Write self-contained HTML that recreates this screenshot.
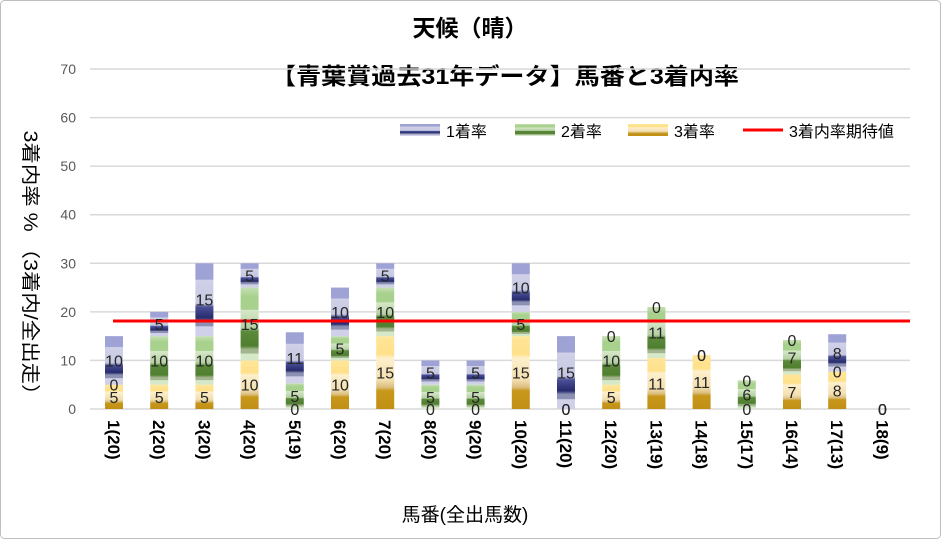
<!DOCTYPE html>
<html><head><meta charset="utf-8"><style>
body{margin:0;background:#fff}
svg{display:block;font-family:"Liberation Sans","Noto Sans CJK JP",sans-serif}
</style></head><body>
<svg id="s" width="941" height="539" xmlns="http://www.w3.org/2000/svg">
<defs>
<linearGradient id="gb" x1="0" y1="0" x2="0" y2="1">
<stop offset="0" stop-color="#9ea2d4"/><stop offset="0.22" stop-color="#9ea2d4"/><stop offset="0.23" stop-color="#d0d1e8"/><stop offset="0.55" stop-color="#c6c8e2"/><stop offset="0.6" stop-color="#4a4f98"/><stop offset="0.75" stop-color="#262b6c"/><stop offset="0.8" stop-color="#8c90b2"/><stop offset="0.86" stop-color="#8c90b2"/><stop offset="0.87" stop-color="#d0d1e8"/><stop offset="1" stop-color="#d0d1e8"/>
</linearGradient>
<linearGradient id="gg" x1="0" y1="0" x2="0" y2="1">
<stop offset="0" stop-color="#c5e0b4"/><stop offset="0.12" stop-color="#a9d18e"/><stop offset="0.3" stop-color="#a9d18e"/><stop offset="0.31" stop-color="#d5e8c8"/><stop offset="0.55" stop-color="#b5cfa2"/><stop offset="0.6" stop-color="#5a8a3a"/><stop offset="0.8" stop-color="#4f7f2e"/><stop offset="0.85" stop-color="#a3b58f"/><stop offset="0.9" stop-color="#a3b58f"/><stop offset="0.91" stop-color="#d5e8c8"/><stop offset="1" stop-color="#d5e8c8"/>
</linearGradient>
<linearGradient id="go" x1="0" y1="0" x2="0" y2="1">
<stop offset="0" stop-color="#ffe699"/><stop offset="0.25" stop-color="#ffe08a"/><stop offset="0.3" stop-color="#fdf0cc"/><stop offset="0.6" stop-color="#f3dfb0"/><stop offset="0.7" stop-color="#dcbf80"/><stop offset="0.75" stop-color="#c8981c"/><stop offset="1" stop-color="#c08f14"/>
</linearGradient>
</defs>
<rect x="0.5" y="0.5" width="940" height="538" rx="4" fill="#fff" stroke="#bfbfbf"/>
<text x="470" y="36" font-size="23" font-weight="bold" text-anchor="middle" fill="#000">天候（晴）</text>
<text x="505" y="84" font-size="23" font-weight="bold" text-anchor="middle" fill="#000" textLength="468" lengthAdjust="spacingAndGlyphs">【青葉賞過去31年データ】馬番と3着内率</text>
<g id="grid"></g>
<g id="bars"></g>
<line x1="113" y1="321" x2="910" y2="321" stroke="#ff0000" stroke-width="3"/>
<g id="labels"></g>
<text transform="translate(24,268) rotate(90)" font-size="19" text-anchor="middle" fill="#000" textLength="275" lengthAdjust="spacingAndGlyphs">3着内率 %  （3着内/全出走）</text>
<text x="465" y="521" font-size="19" text-anchor="middle" fill="#000">馬番(全出馬数)</text>
<g font-size="16" fill="#000">
<rect x="400" y="124" width="40" height="12" fill="url(#gb)"/><text x="446" y="137">1着率</text>
<rect x="515" y="124" width="40" height="12" fill="url(#gg)"/><text x="561" y="137">2着率</text>
<rect x="628" y="124" width="40" height="12" fill="url(#go)"/><text x="674" y="137">3着率</text>
<line x1="743" y1="130" x2="783" y2="130" stroke="#f00" stroke-width="3"/><text x="789" y="137">3着内率期待値</text>
</g>
</svg>
<script>
var NS="http://www.w3.org/2000/svg";
function el(p,t,a,txt){var e=document.createElementNS(NS,t);for(var k in a)e.setAttribute(k,a[k]);if(txt!=null)e.textContent=txt;document.getElementById(p).appendChild(e);return e;}
function y(v){return 409-v*4.857;}
for(var v=0;v<=70;v+=10){el("grid","line",{x1:90,x2:910,y1:y(v),y2:y(v),stroke:"#d9d9d9","stroke-width":1.5});
el("grid","text",{x:76,y:y(v)+5,"font-size":14,"text-anchor":"end",fill:"#595959"},String(v));}
var d=[[10,0,5],[5,10,5],[15,10,5],[5,15,10],[10.5,5.3,0],[10,5,10],[5,10,15],[5,5,0],[5,5,0],[10,5,15],[15,0,0],[0,10,5],[0,10.5,10.5],[0,0,11.1],[0,5.9,0],[0,7.1,7.1],[7.7,0,7.7],[0,0,0]];
var nm=["1(20)","2(20)","3(20)","4(20)","5(19)","6(20)","7(20)","8(20)","9(20)","10(20)","11(20)","12(20)","13(19)","14(18)","15(17)","16(14)","17(13)","18(9)"];
d.forEach(function(r,i){
 var cx=114+i*45.2,w=18,base=0;
 var segs=[[r[2],"go"],[r[1],"gg"],[r[0],"gb"]];
 segs.forEach(function(s){
  var v=s[0];
  if(v>0)el("bars","rect",{x:cx-w/2,y:y(base+v),width:w,height:v*4.857,fill:"url(#"+s[1]+")"});
  el("labels","text",{x:cx,y:y(base+v/2)+6,"font-size":16,"text-anchor":"middle",fill:"#262626"},String(Math.round(v)));
  base+=v;
 });
 el("labels","text",{transform:"translate("+(cx-6)+",420) rotate(90)","font-size":17,"font-weight":"bold",fill:"#000"},nm[i]);
});
</script>
</body></html>
